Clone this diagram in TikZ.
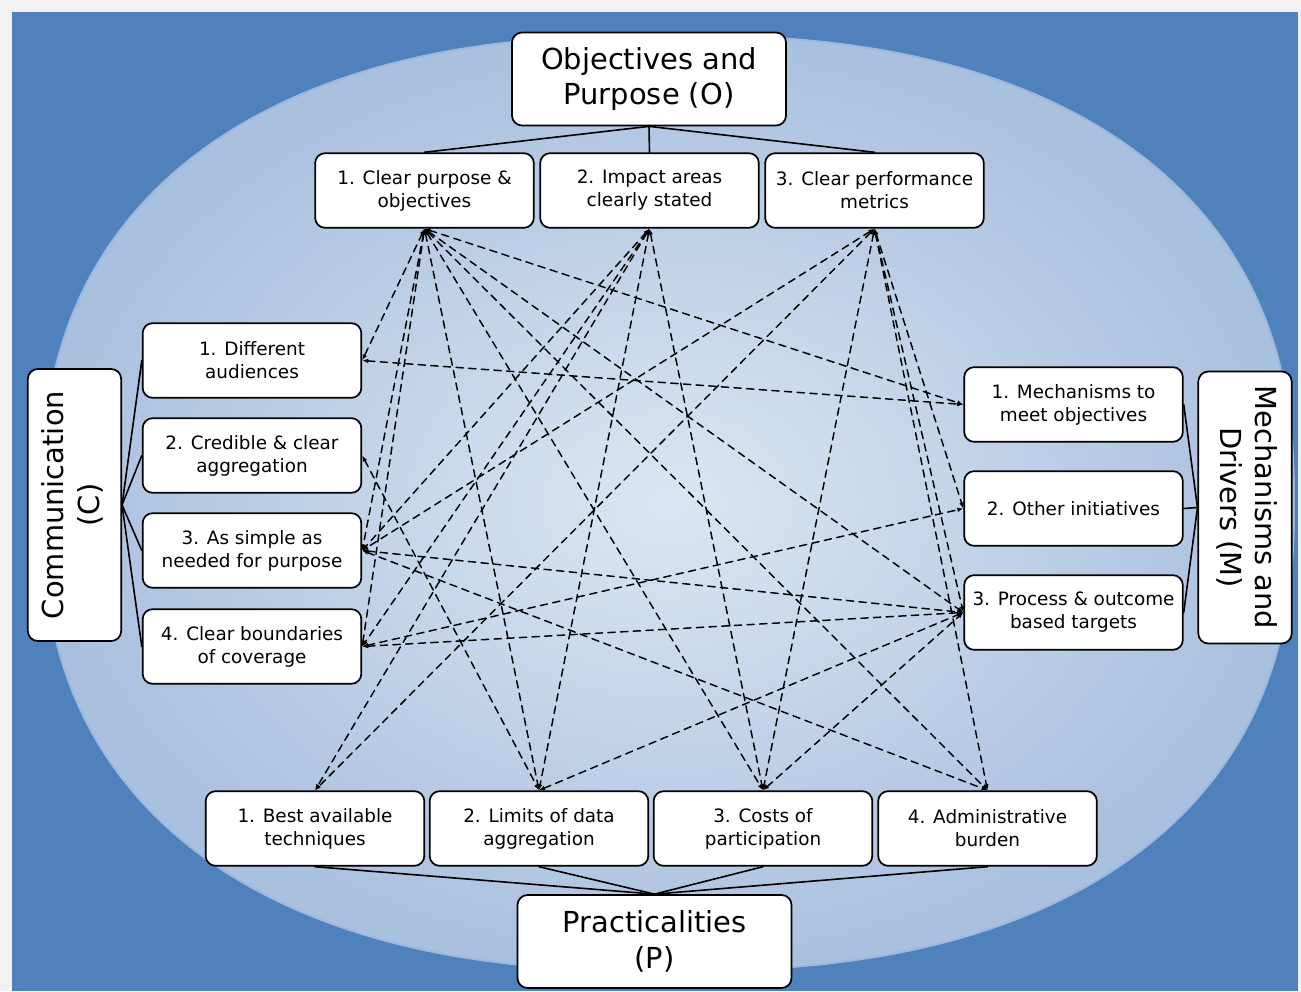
\documentclass[tikz,border=0pt]{standalone}
\usepackage{fontspec}
\setmainfont{DejaVu Sans}
\usetikzlibrary{arrows.meta}
\definecolor{pagegrey}{HTML}{F2F2F2}
\definecolor{deskblue}{HTML}{4F81BD}
\definecolor{ovalin}{HTML}{DCE6F2}
\definecolor{ovalout}{HTML}{A9C0DF}
\definecolor{ovalrim}{HTML}{9DB8DD}

\begin{document}
\begin{tikzpicture}[x=0.75pt,y=-0.75pt,line cap=round,line join=round,
  subbox/.style={draw,line width=1.3pt,fill=white,rounded corners=7.5pt,
    minimum width=164pt,minimum height=56pt,align=center,inner sep=2pt,
    font=\fontsize{13.8}{17.2}\selectfont},
  headbox/.style={subbox,minimum width=205.5pt,minimum height=69.75pt,
    font=\fontsize{21.7}{26.5}\selectfont},
  sidebox/.style={subbox,minimum width=70pt,minimum height=204pt,
    font=\fontsize{21.7}{26.5}\selectfont},
  stemline/.style={line width=1.2pt},
  crosslink/.style={line width=1.1pt,dash pattern=on 5.5pt off 4pt,
    {Latex[length=4.5pt,width=3.5pt]}-{Latex[length=4.5pt,width=3.5pt]}}]
  \useasboundingbox (0,0) rectangle (1301,991);

  % Page, backdrop and oval.
  \fill[pagegrey] (0,0) rectangle (1301,991);
  \fill[deskblue] (12,12) rectangle (1298,991);
  \shadedraw[inner color=ovalin,outer color=ovalout,draw=ovalrim,line width=1.5pt]
    plot[domain=1.5:358.5,samples=120,smooth cycle]
    ({668+626*cos(\x)*abs(cos(\x))^(-0.1667)},{503+468*sin(\x)*abs(sin(\x))^(-0.1667)});

  % Objectives and purpose.
  \node[headbox] (O) at (649,79) {Objectives and\\Purpose (O)};
  \node[subbox] (O1) at (424.5,190.5) {1. Clear purpose \&\\objectives};
  \node[subbox] (O2) at (649.5,190.5) {2. Impact areas\\clearly stated};
  \node[subbox] (O3) at (874.5,190.5) {3. Clear performance\\metrics};
  \foreach \i in {1,2,3} \draw[stemline] (O.south) -- (O\i.north);

  % Communication.
  \node[sidebox] (C) at (74.5,505)
    {\rotatebox{90}{\begin{tabular}{@{}c@{}}Communication\\(C)\end{tabular}}};
  \node[subbox] (C1) at (252,360.5) {1. Different\\audiences};
  \node[subbox] (C2) at (252,455.5) {2. Credible \& clear\\aggregation};
  \node[subbox] (C3) at (252,550.5) {3. As simple as\\needed for purpose};
  \node[subbox] (C4) at (252,646.5) {4. Clear boundaries\\of coverage};
  \foreach \i in {1,...,4} \draw[stemline] (C.east) -- (C\i.west);

  % Mechanisms and drivers.
  \node[sidebox] (M) at (1245,507.5)
    {\rotatebox{-90}{\begin{tabular}{@{}c@{}}Mechanisms and\\Drivers (M)\end{tabular}}};
  \node[subbox] (M1) at (1073.5,404.5) {1. Mechanisms to\\meet objectives};
  \node[subbox] (M2) at (1073.5,508.5) {2. Other initiatives};
  \node[subbox] (M3) at (1073.5,612.5) {3. Process \& outcome\\based targets};
  \foreach \i in {1,2,3} \draw[stemline] (M.west) -- (M\i.east);

  % Practicalities.
  \node[headbox] (P) at (654.5,941.5) {Practicalities\\(P)};
  \node[subbox] (P1) at (315,828.5) {1. Best available\\techniques};
  \node[subbox] (P2) at (539,828.5) {2. Limits of data\\aggregation};
  \node[subbox] (P3) at (763,828.5) {3. Costs of\\participation};
  \node[subbox] (P4) at (987.5,828.5) {4. Administrative\\burden};
  \foreach \i in {1,...,4} \draw[stemline] (P.north) -- (P\i.south);

  % Cross links between sub-criteria.
  \foreach \a/\b in {O1.south/C1.east,O1.south/C3.east,O1.south/C4.east,
      O1.south/M1.west,O1.south/M3.west,O1.south/P2.north,O1.south/P3.north,
      O1.south/P4.north,
      O2.south/C3.east,O2.south/C4.east,O2.south/P1.north,O2.south/P2.north,
      O2.south/P3.north,
      O3.south/C3.east,O3.south/M2.west,O3.south/M3.west,O3.south/P1.north,
      O3.south/P3.north,O3.south/P4.north,
      C1.east/M1.west,C2.east/P2.north,C3.east/M3.west,C3.east/P4.north,
      C4.east/M2.west,C4.east/M3.west,
      P2.north/M3.west,P3.north/M3.west}
    \draw[crosslink] (\a) -- (\b);
\end{tikzpicture}
\end{document}
